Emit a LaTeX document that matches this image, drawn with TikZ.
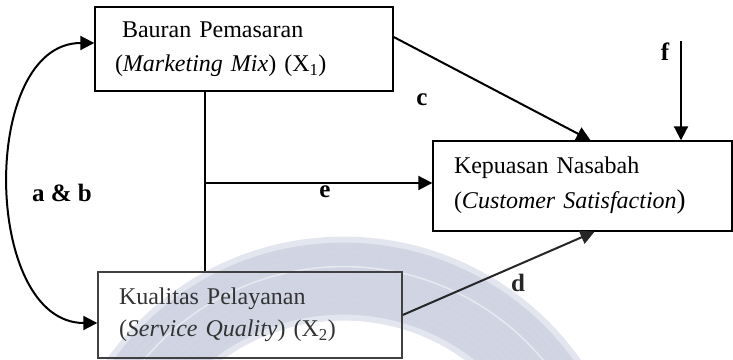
\documentclass[tikz,border=0pt]{standalone}
\usepackage{fontspec}
\setmainfont{Liberation Serif}
\usetikzlibrary{arrows.meta}
\definecolor{ringc}{RGB}{150,160,192}
\tikzset{
	box/.style={draw, line width=1.4pt, align=left, inner ysep=0pt, font=\fontsize{24}{34}\selectfont},
	arr/.style={line width=2pt, -{Triangle[length=14pt,width=14pt]}},
	dblarr/.style={line width=2pt, {Triangle[length=14pt,width=14pt]}-{Triangle[length=14pt,width=14pt]}},
	lbl/.style={font=\fontsize{25}{30}\selectfont\bfseries},
	ring/.style={line width=12pt, color=ringc, opacity=0.26},
}
\begin{document}
\begin{tikzpicture}[x=1pt,y=1pt]
		\useasboundingbox (0,0) rectangle (733,359);
		% faint ring behind the lower box
		\begin{scope}
			\clip (0,0) rectangle (733,359);
			\foreach \r in {212,218,...,284}
				\draw[ring] (343.5,-167.6) circle (\r pt);
			\draw[white, line width=1.5pt, opacity=0.5] (343.5,-167.6) circle (260pt);
		\end{scope}

		\node(x1)	[box, text width=258pt, inner xsep=20pt, minimum height=84pt] at (244,310)
			{\hspace*{7pt}Bauran Pemasaran\\(\textit{Marketing Mix}) (X\textsubscript{1})};
		\node(y)	[box, text width=257pt, inner xsep=21pt, minimum height=90pt, font=\fontsize{24}{35}\selectfont] at (582.5,173)
			{Kepuasan Nasabah\\(\textit{Customer Satisfaction}{\fontsize{27}{35}\selectfont)}};
		\node(x2)	[box, draw=black!75, text=black!80, text width=262pt, inner xsep=21pt, minimum height=86pt, font=\fontsize{24}{32}\selectfont] at (250,44)
			{Kualitas Pelayanan\\(\textit{Service Quality}) (X\textsubscript{2})};

		\coordinate(j) at (205,176);
		\coordinate(ftop) at (681,318);

		\draw[line width=1.4pt] (x1.south -| j) -- (x2.north -| j);
		\draw[arr] (j) -- (j -| y.west);
		\draw[arr] ([yshift=12pt]x1.east) -- ([xshift=8pt]y.north);
		\draw[arr] (ftop) -- (ftop |- y.north);
		\draw[arr, black!85] (x2.east) -- ([xshift=12pt]y.south);
		\draw[dblarr] ([yshift=6pt]x1.west) to[out=180, in=180, looseness=1.05] ([yshift=-8pt]x2.west);

		\node(e)	[lbl] at (325,167) {e};
		\node(c)	[lbl] at (422,259) {c};
		\node(f)	[lbl] at (665,307) {f};
		\node(d)	[lbl, black!85] at (518,76) {d};
		\node(ab)	[lbl] at (62,166) {a \& b};
\end{tikzpicture}
\end{document}
